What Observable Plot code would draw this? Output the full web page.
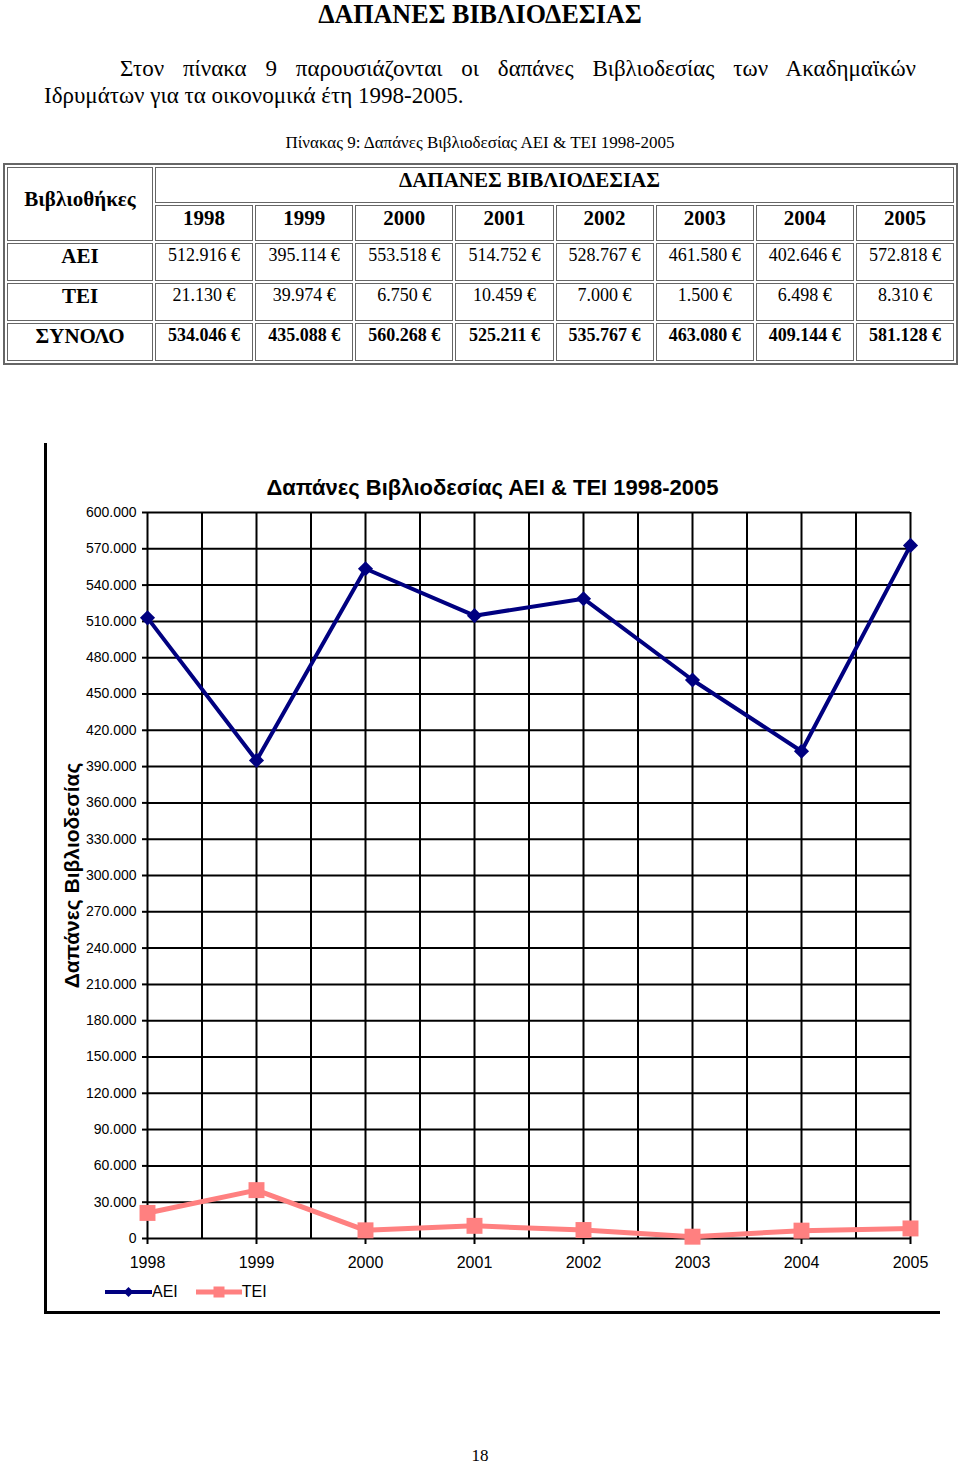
<!DOCTYPE html>
<html>
<head>
<meta charset="utf-8">
<script src="https://cdn.jsdelivr.net/npm/d3@7"></script>
<script src="https://cdn.jsdelivr.net/npm/@observablehq/plot@0.6"></script>
<style>
  html, body { margin: 0; padding: 0; background: #fff; }
  body { width: 960px; height: 1464px; position: relative; overflow: hidden; font-family: "Liberation Serif", "Times New Roman", serif; color: #000; }
  .abs { position: absolute; }
  #pageTitle { top: 0; left: 0; width: 960px; text-align: center; font-weight: bold; font-size: 28px; line-height: 28px; }
  #pageTitle span { display: inline-block; transform: scaleX(0.93); transform-origin: center; }
  #para { top: 55px; left: 44px; width: 872px; font-size: 23px; line-height: 27px; }
  #para .l1 { text-align: justify; text-align-last: justify; padding-left: 76px; }
  #caption { top: 134px; left: 0; width: 960px; text-align: center; font-size: 17px; line-height: 18px; }
  #tbl { top: 163px; left: 3px; border-collapse: separate; border-spacing: 2px; border: 2px solid #666; table-layout: fixed; width: 955px; }
  #tbl td, #tbl th { border: 1px solid #666; padding: 0; text-align: center; vertical-align: top; }
  #tbl th { font-weight: bold; font-size: 21px; height: 34px; padding-top: 0; }
  #tbl tr.data th { height: 36px; }
  #tbl td { font-size: 18px; height: 35px; padding-top: 1px; }
  #tbl td.tot { font-weight: bold; }
  #tbl th.lib { vertical-align: middle; padding-top: 0; padding-bottom: 10px; }
  #tbl th.span { text-align: center; padding-right: 50px; }
  #chartWrap { top: 440px; left: 0; width: 960px; height: 880px; }
  #frame { position: absolute; left: 44px; top: 3px; width: 893px; height: 868px; border-left: 3px solid #000; border-bottom: 3px solid #000; }
  #chartTitle { position: absolute; left: 45px; width: 895px; top: 35px; text-align: center; font-family: "Liberation Sans", Arial, sans-serif; font-weight: bold; font-size: 22px; }
  #plot { position: absolute; left: 0; top: 0; }
  #legend { position: absolute; left: 105px; top: 842px; font-family: "Liberation Sans", Arial, sans-serif; font-size: 16px; display: flex; align-items: center; }
  #legend .item { display: flex; align-items: center; margin-right: 18px; }
  #legend svg { display: block; }
  #pageNum { top: 1446px; left: 0; width: 960px; text-align: center; font-size: 17px; }
</style>
</head>
<body>
<div id="pageTitle" class="abs"><span>ΔΑΠΑΝΕΣ ΒΙΒΛΙΟΔΕΣΙΑΣ</span></div>
<div id="para" class="abs"><div class="l1">Στον πίνακα 9 παρουσιάζονται οι δαπάνες Βιβλιοδεσίας των Ακαδημαϊκών</div><div class="l2">Ιδρυμάτων για τα οικονομικά έτη 1998-2005.</div></div>
<div id="caption" class="abs">Πίνακας 9: Δαπάνες Βιβλιοδεσίας ΑΕΙ &amp; ΤΕΙ 1998-2005</div>
<table id="tbl" class="abs"></table>
<div id="chartWrap" class="abs">
  <div id="frame"></div>
  <div id="plot"></div>
  <div id="chartTitle">Δαπάνες Βιβλιοδεσίας ΑΕΙ &amp; ΤΕΙ 1998-2005</div>
  <div id="legend"></div>
</div>
<div id="pageNum" class="abs">18</div>
<script>
// ---- data ----
const years = [1998, 1999, 2000, 2001, 2002, 2003, 2004, 2005];
const aei = [512916, 395114, 553518, 514752, 528767, 461580, 402646, 572818];
const tei = [21130, 39974, 6750, 10459, 7000, 1500, 6498, 8310];
const totals = [534046, 435088, 560268, 525211, 535767, 463080, 409144, 581128];
const seriesNames = ["ΑΕΙ", "ΤΕΙ"];
const seriesColors = ["#000080", "#FF8080"];
const seriesSymbols = ["diamond2", "square"];
const yTicks = [0, 30000, 60000, 90000, 120000, 150000, 180000, 210000, 240000, 270000, 300000, 330000, 360000, 390000, 420000, 450000, 480000, 510000, 540000, 570000, 600000];
const xGrid = [1998, 1998.5, 1999, 1999.5, 2000, 2000.5, 2001, 2001.5, 2002, 2002.5, 2003, 2003.5, 2004, 2004.5, 2005];
const yLabel = "Δαπάνες Βιβλιοδεσίας";

const locale = d3.formatLocale({decimal: ",", thousands: ".", grouping: [3], currency: ["", " €"]});
const fmtNum = locale.format(",");
const fmtEuro = v => fmtNum(v) + " €";

// ---- table ----
const tbl = document.getElementById("tbl");
let html = '<colgroup><col style="width:146px">' + years.map(() => '<col>').join('') + '</colgroup>';
html += '<tr><th class="lib" rowspan="2">Βιβλιοθήκες</th><th class="span" colspan="8">ΔΑΠΑΝΕΣ ΒΙΒΛΙΟΔΕΣΙΑΣ</th></tr>';
html += '<tr>' + years.map(y => `<th>${y}</th>`).join('') + '</tr>';
html += '<tr class="data"><th>ΑΕΙ</th>' + aei.map(v => `<td>${fmtEuro(v)}</td>`).join('') + '</tr>';
html += '<tr class="data"><th>ΤΕΙ</th>' + tei.map(v => `<td>${fmtEuro(v)}</td>`).join('') + '</tr>';
html += '<tr class="data"><th>ΣΥΝΟΛΟ</th>' + totals.map(v => `<td class="tot">${fmtEuro(v)}</td>`).join('') + '</tr>';
tbl.innerHTML = html;

// ---- chart ----
const data = [];
years.forEach((y, i) => data.push({year: y, value: aei[i], series: seriesNames[0]}));
years.forEach((y, i) => data.push({year: y, value: tei[i], series: seriesNames[1]}));
const aeiData = data.filter(d => d.series === seriesNames[0]);
const teiData = data.filter(d => d.series === seriesNames[1]);

const chart = Plot.plot({
  width: 960,
  height: 880,
  marginLeft: 147,
  marginRight: 50,
  marginTop: 72,
  marginBottom: 82,
  style: {fontFamily: '"Liberation Sans", Arial, sans-serif', background: "transparent", color: "#000"},
  x: {domain: [1998, 2005]},
  y: {domain: [0, 600000]},
  color: {domain: seriesNames, range: seriesColors},
  marks: [
    Plot.gridX(xGrid, {stroke: "#000", strokeOpacity: 1, strokeWidth: 2}),
    Plot.gridY(yTicks, {stroke: "#000", strokeOpacity: 1, strokeWidth: 2}),
    Plot.axisY(yTicks, {tickFormat: fmtNum, tickSize: 5, tickPadding: 6, fontSize: 14, strokeWidth: 2, label: null}),
    Plot.axisX(years, {tickFormat: d => String(d), tickSize: 6, tickPadding: 12, fontSize: 16, strokeWidth: 2, label: null}),
    Plot.text([yLabel], {frameAnchor: "left", text: d => d, rotate: -90, dx: -75, textAnchor: "middle", fontSize: 21, fontWeight: "bold"}),
    Plot.line(aeiData, {x: "year", y: "value", stroke: "series", strokeWidth: 4}),
    Plot.line(teiData, {x: "year", y: "value", stroke: "series", strokeWidth: 5}),
    Plot.dot(aeiData, {x: "year", y: "value", fill: "series", symbol: () => seriesSymbols[0], r: 6.8, stroke: "none"}),
    Plot.dot(teiData, {x: "year", y: "value", fill: "series", symbol: () => seriesSymbols[1], r: 9, stroke: "none"})
  ]
});
document.getElementById("plot").appendChild(chart);

// ---- legend ----
const legend = document.getElementById("legend");
const swatchDefs = [
  {w: 47, size: 8, kind: "diamond", sw: 4},
  {w: 46, size: 11, kind: "square", sw: 5}
];
seriesNames.forEach((name, i) => {
  const s = swatchDefs[i];
  const item = document.createElement("div");
  item.className = "item";
  const c = s.w / 2;
  const mk = s.kind === "diamond"
    ? `<path d="M${c},${10 - s.size / 2 - 1}L${c + s.size / 2 + 1},10L${c},${10 + s.size / 2 + 1}L${c - s.size / 2 - 1},10Z" fill="${seriesColors[i]}"/>`
    : `<rect x="${c - s.size / 2}" y="${10 - s.size / 2}" width="${s.size}" height="${s.size}" fill="${seriesColors[i]}"/>`;
  item.innerHTML = `<svg width="${s.w}" height="20"><line x1="0" y1="10" x2="${s.w}" y2="10" stroke="${seriesColors[i]}" stroke-width="${s.sw}"/>${mk}</svg><span>${name}</span>`;
  legend.appendChild(item);
});
</script>
</body>
</html>
